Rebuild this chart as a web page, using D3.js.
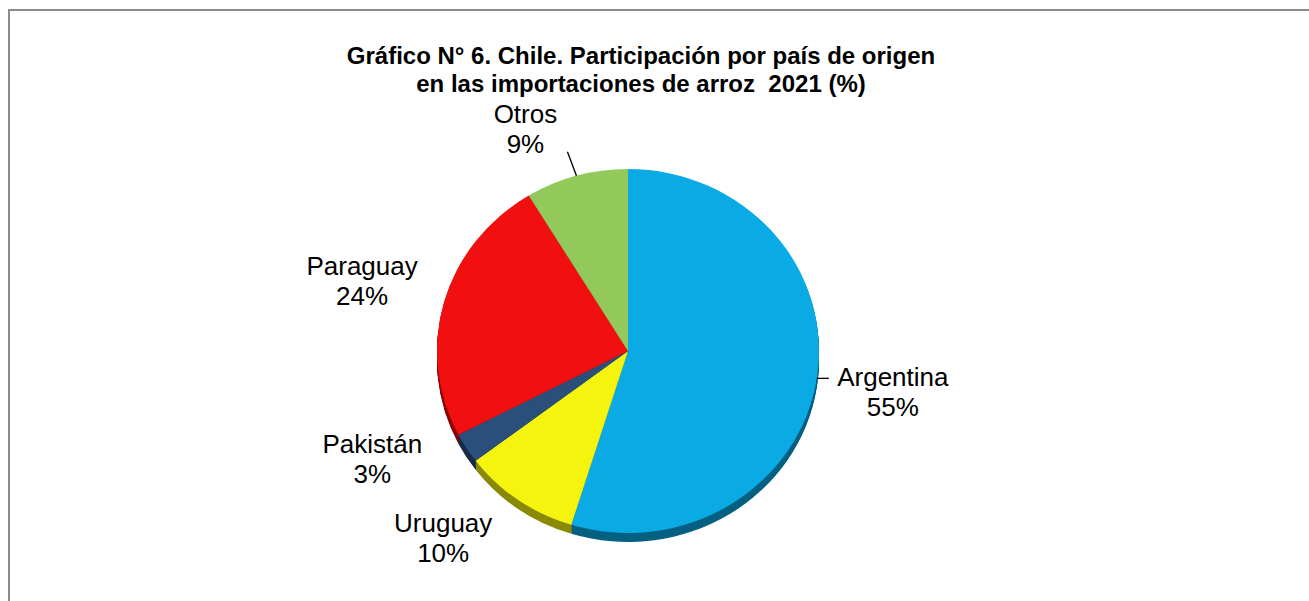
<!DOCTYPE html>
<html>
<head>
<meta charset="utf-8">
<script src="https://cdn.jsdelivr.net/npm/d3@7/dist/d3.min.js"></script>
<style>
  html, body { margin: 0; padding: 0; background: #fff; }
  svg { display: block; font-family: "Liberation Sans", Arial, sans-serif; }
  .title tspan { white-space: pre; }
</style>
</head>
<body>
<div id="chart"></div>
<script>
// data (shares in %, clockwise from 12 o'clock)
const countries = ["Argentina", "Uruguay", "Pakistán", "Paraguay", "Otros"];
const shares = [54.8, 9.9, 2.7, 23.9, 8.7];
const colors = ["#0aaae4", "#f4f40e", "#2b4f7b", "#f20f10", "#92c95a"];
const titleLines = ["Gráfico N° 6. Chile. Participación por país de origen",
                    "en las importaciones de arroz  2021 (%)"];

// label placement relative to the slice edge at mid angle (layout only)
const labelShift = [[76, 8], [-75, 32], [-94, 5], [-82, -27], [-51, -53]];
const leaderShift = [[12, 0], null, null, null, [-9, -24]];

const W = 1309, H = 601;
const cx = 628, cy = 351, rx = 191, ry = 182, depth = 9;

const svg = d3.select("#chart").append("svg")
  .attr("width", W)
  .attr("height", H);

// frame (only left and top edges are visible in the picture)
svg.append("path")
  .attr("d", `M9,${H} L9,10 L${W},10`)
  .attr("fill", "none")
  .attr("stroke", "#8c8c8c")
  .attr("stroke-width", 2);

// title
svg.append("text")
  .attr("class", "title")
  .attr("xml:space", "preserve")
  .attr("y", 64)
  .attr("text-anchor", "middle")
  .style("font-size", "24px")
  .style("font-weight", "bold")
  .selectAll("tspan")
  .data(titleLines)
  .join("tspan")
  .attr("x", 641)
  .attr("dy", (d, i) => i === 0 ? 0 : 28)
  .text(d => d);

const rows = countries.map((c, i) => ({ name: c, value: shares[i], color: colors[i], i }));

const pie = d3.pie().sort(null).value(d => d.value);
const arcs = pie(rows);
const arc = d3.arc().innerRadius(0).outerRadius(rx);

// side of the 3d pie: stacked copies of the slices in darker tones
for (let k = depth; k >= 1; k--) {
  svg.append("g")
    .attr("transform", `translate(${cx},${cy + k}) scale(1,${ry / rx})`)
    .selectAll("path")
    .data(arcs)
    .join("path")
    .attr("d", arc)
    .attr("fill", d => d3.color(d.data.color).darker(1.6));
}

// top face
const face = svg.append("g")
  .attr("transform", `translate(${cx},${cy}) scale(1,${ry / rx})`);

face.selectAll("path.slice")
  .data(arcs)
  .join("path")
  .attr("class", "slice")
  .attr("d", arc)
  .attr("fill", d => d.data.color);

// labels
const edgePoint = d => {
  const a = (d.startAngle + d.endAngle) / 2;
  return [cx + rx * Math.sin(a), cy - ry * Math.cos(a)];
};

arcs.forEach((d, i) => {
  const [ex, ey] = edgePoint(d);
  const ls = leaderShift[i];
  if (ls) {
    svg.append("line")
      .attr("x1", ex).attr("y1", ey)
      .attr("x2", ex + ls[0]).attr("y2", ey + ls[1])
      .attr("stroke", "#000")
      .attr("stroke-width", 1.3);
  }
  const lx = ex + labelShift[i][0];
  const ly = ey + labelShift[i][1];
  const t = svg.append("text")
    .attr("text-anchor", "middle")
    .style("font-size", "26px")
    .attr("fill", "#000");
  t.append("tspan").attr("x", lx).attr("y", ly).text(d.data.name);
  t.append("tspan").attr("x", lx).attr("y", ly + 30).text(Math.round(d.data.value) + "%");
});
</script>
</body>
</html>
